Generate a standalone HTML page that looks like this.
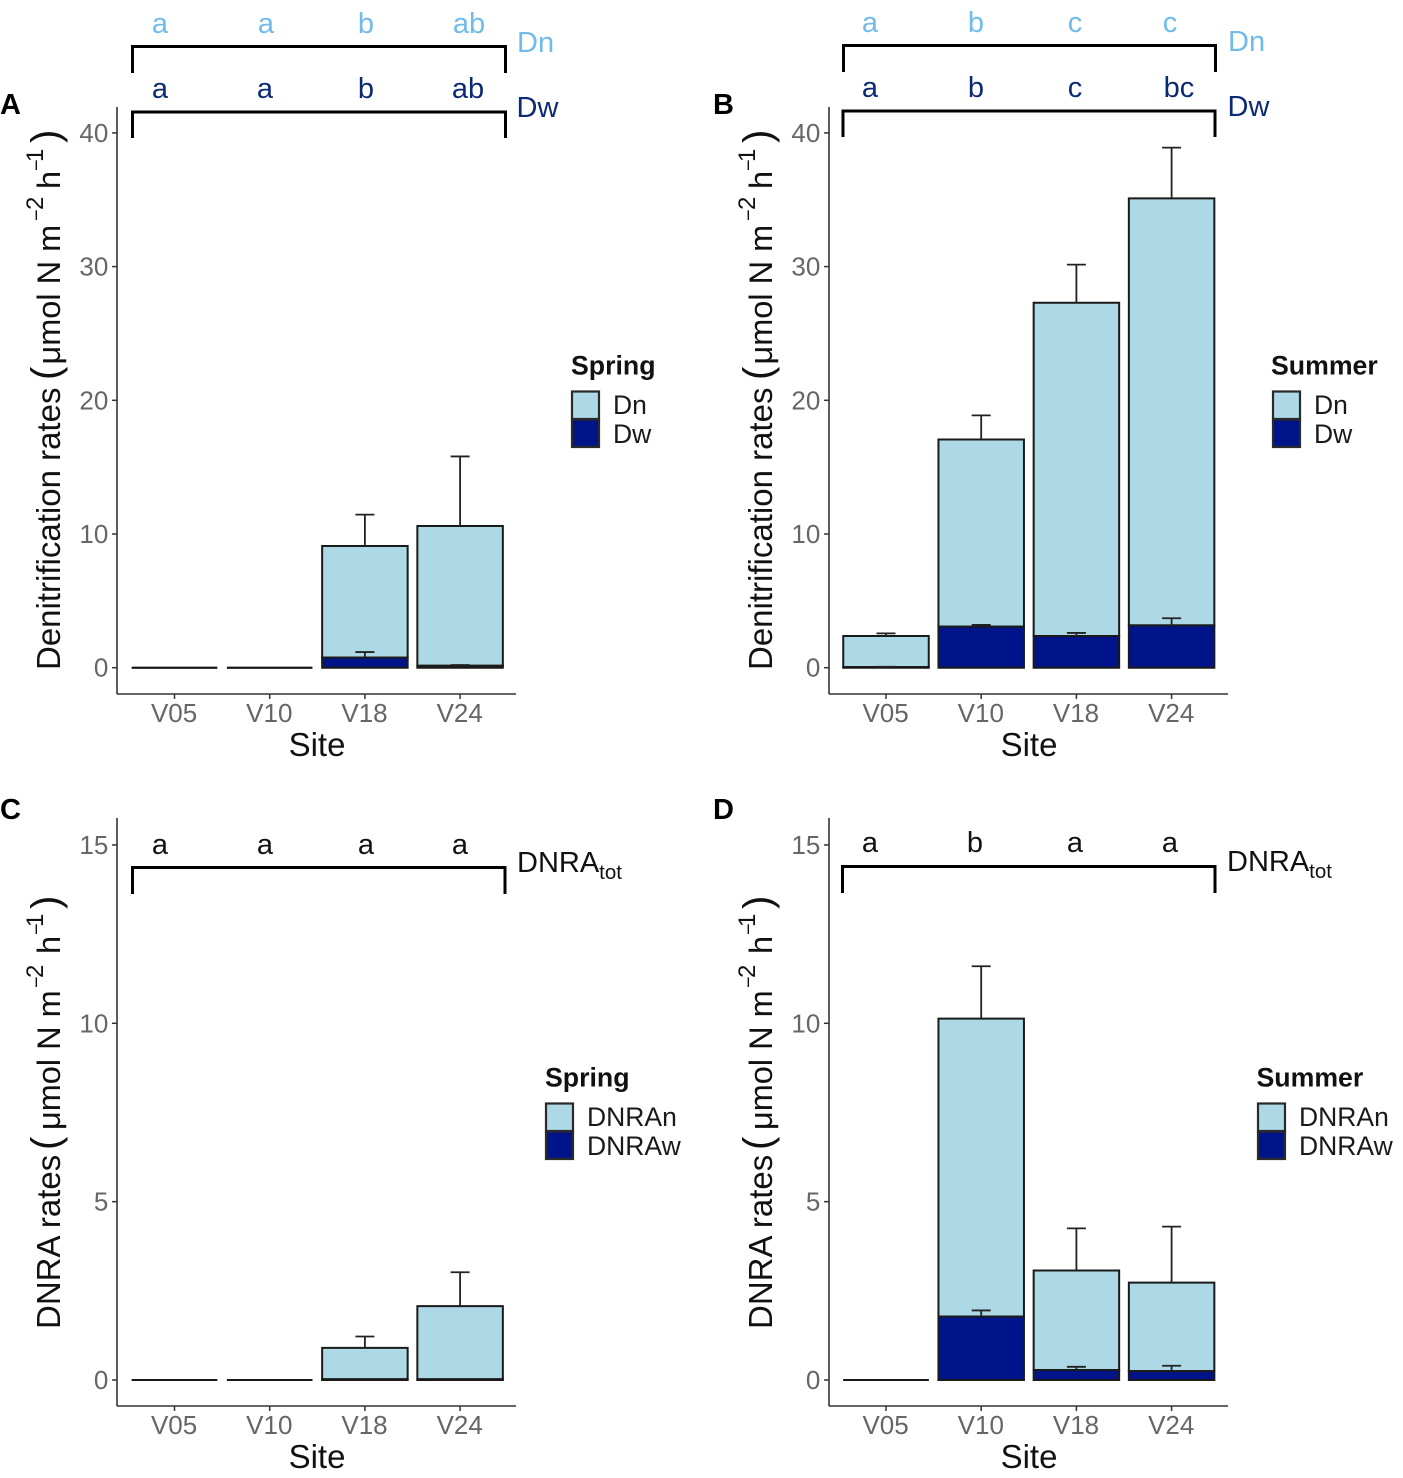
<!DOCTYPE html>
<html>
<head>
<meta charset="utf-8">
<title>Denitrification and DNRA rates</title>
<style>
html,body{margin:0;padding:0;background:#fff;width:1403px;height:1478px;overflow:hidden}
svg{display:block}
text{font-family:"Liberation Sans",sans-serif}
.lt{font-size:29px;text-anchor:middle;fill:#6fbbeb}
.dk{font-size:29px;text-anchor:middle;fill:#0c2a74}
.bk{font-size:29px;text-anchor:middle;fill:#111}
.tag{font-size:29px;font-weight:bold;fill:#000}
.lgt{font-size:26.7px;font-weight:bold;fill:#111}
.lgl{font-size:26.5px;fill:#1a1a1a}
.ttl{font-size:33px;fill:#111}
.ttl .m{font-size:32.500px}
.ttl .p{font-size:40px}
.ttl .s{font-size:24px}
.ttl .d{font-size:20px}
.xt{font-size:33px;fill:#111;text-anchor:middle}
.br{fill:none;stroke:#000;stroke-width:3}
.sw{stroke:#2a2a2a;stroke-width:2.2}
</style>
</head>
<body>
<svg id="fig" xmlns="http://www.w3.org/2000/svg" width="1403" height="1478" viewBox="0 0 1403 1478">
  <rect width="1403" height="1478" fill="#fff"/>

  <text class="tag" x="0" y="114">A</text>
  <text class="tag" x="713" y="114">B</text>
  <text class="tag" x="0" y="819">C</text>
  <text class="tag" x="713" y="819">D</text>

  <text class="ttl" transform="translate(60,670) rotate(-90)">Denitrification rates<tspan class="p" x="290" y="-1">(</tspan><tspan class="m" x="305.500" y="0">μmol N m</tspan><tspan class="d" x="449" y="-17">−</tspan><tspan class="s" x="460" y="-17">2</tspan><tspan class="m" x="481" y="0">h</tspan><tspan class="d" x="499" y="-17">−</tspan><tspan class="s" x="508" y="-17">1</tspan><tspan class="p" x="527" y="-1">)</tspan></text>
  <text class="ttl" transform="translate(772,670) rotate(-90)">Denitrification rates<tspan class="p" x="290" y="-1">(</tspan><tspan class="m" x="305.500" y="0">μmol N m</tspan><tspan class="d" x="449" y="-17">−</tspan><tspan class="s" x="460" y="-17">2</tspan><tspan class="m" x="481" y="0">h</tspan><tspan class="d" x="499" y="-17">−</tspan><tspan class="s" x="508" y="-17">1</tspan><tspan class="p" x="527" y="-1">)</tspan></text>
  <text class="ttl" transform="translate(60,1329) rotate(-90)">DNRA rates<tspan class="p" x="179" y="-1">(</tspan><tspan class="m" x="199" y="0">μmol N m</tspan><tspan class="d" x="341" y="-17">−</tspan><tspan class="s" x="351" y="-17">2</tspan><tspan class="m" x="375" y="0">h</tspan><tspan class="d" x="394" y="-17">−</tspan><tspan class="s" x="402" y="-17">1</tspan><tspan class="p" x="420" y="-1">)</tspan></text>
  <text class="ttl" transform="translate(772,1329) rotate(-90)">DNRA rates<tspan class="p" x="179" y="-1">(</tspan><tspan class="m" x="199" y="0">μmol N m</tspan><tspan class="d" x="341" y="-17">−</tspan><tspan class="s" x="351" y="-17">2</tspan><tspan class="m" x="375" y="0">h</tspan><tspan class="d" x="394" y="-17">−</tspan><tspan class="s" x="402" y="-17">1</tspan><tspan class="p" x="420" y="-1">)</tspan></text>

  <text class="xt" x="317" y="756">Site</text>
  <text class="xt" x="1029" y="756">Site</text>
  <text class="xt" x="317" y="1468">Site</text>
  <text class="xt" x="1029" y="1468">Site</text>

  <g>
    <path class="br" d="M132.500 73V46.500H505.500V73"/>
    <path class="br" d="M132.500 138V112H505.500V138"/>
    <text class="lt" x="160" y="33">a</text>
    <text class="lt" x="266" y="33">a</text>
    <text class="lt" x="366" y="33">b</text>
    <text class="lt" x="469" y="33">ab</text>
    <text class="dk" x="160" y="98">a</text>
    <text class="dk" x="265" y="98">a</text>
    <text class="dk" x="366" y="98">b</text>
    <text class="dk" x="468" y="98">ab</text>
    <text class="lt" style="text-anchor:start" x="517" y="52">Dn</text>
    <text class="dk" style="text-anchor:start" x="516.500" y="117">Dw</text>
  </g>
  <g>
    <path class="br" d="M843.500 72V45.500H1215.500V72"/>
    <path class="br" d="M843 137V111H1215V137"/>
    <text class="lt" x="870" y="32">a</text>
    <text class="lt" x="976" y="32">b</text>
    <text class="lt" x="1075" y="32">c</text>
    <text class="lt" x="1170" y="32">c</text>
    <text class="dk" x="870" y="97">a</text>
    <text class="dk" x="976" y="97">b</text>
    <text class="dk" x="1075" y="97">c</text>
    <text class="dk" x="1179" y="97">bc</text>
    <text class="lt" style="text-anchor:start" x="1228" y="51">Dn</text>
    <text class="dk" style="text-anchor:start" x="1227.500" y="116">Dw</text>
  </g>
  <g>
    <path class="br" d="M132.500 894V867.500H505V894"/>
    <text class="bk" x="160" y="854">a</text>
    <text class="bk" x="265" y="854">a</text>
    <text class="bk" x="366" y="854">a</text>
    <text class="bk" x="460" y="854">a</text>
    <text class="bk" style="text-anchor:start" x="517" y="872">DNRA<tspan font-size="20.500" dy="7">tot</tspan></text>
  </g>
  <g>
    <path class="br" d="M842.500 893V866.500H1215V893"/>
    <text class="bk" x="870" y="852">a</text>
    <text class="bk" x="975" y="852">b</text>
    <text class="bk" x="1075" y="852">a</text>
    <text class="bk" x="1170" y="852">a</text>
    <text class="bk" style="text-anchor:start" x="1227" y="871">DNRA<tspan font-size="20.500" dy="7">tot</tspan></text>
  </g>

  <g>
    <text class="lgt" x="571" y="374.500">Spring</text>
    <rect class="sw" x="572" y="391.500" width="27" height="27.500" fill="#add8e6"/>
    <rect class="sw" x="572" y="419.500" width="27" height="27.500" fill="#00148a"/>
    <text class="lgl" x="613" y="414">Dn</text>
    <text class="lgl" x="613" y="443">Dw</text>
  </g>
  <g>
    <text class="lgt" x="1271" y="374.500">Summer</text>
    <rect class="sw" x="1273" y="391.500" width="27" height="27.500" fill="#add8e6"/>
    <rect class="sw" x="1273" y="419.500" width="27" height="27.500" fill="#00148a"/>
    <text class="lgl" x="1314" y="414">Dn</text>
    <text class="lgl" x="1314" y="443">Dw</text>
  </g>
  <g>
    <text class="lgt" x="545" y="1086.500">Spring</text>
    <rect class="sw" x="546" y="1103.500" width="27" height="27.500" fill="#add8e6"/>
    <rect class="sw" x="546" y="1131.500" width="27" height="27.500" fill="#00148a"/>
    <text class="lgl" x="587" y="1126">DNRAn</text>
    <text class="lgl" x="587" y="1155">DNRAw</text>
  </g>
  <g>
    <text class="lgt" x="1256.500" y="1086.500">Summer</text>
    <rect class="sw" x="1258" y="1103.500" width="27" height="27.500" fill="#add8e6"/>
    <rect class="sw" x="1258" y="1131.500" width="27" height="27.500" fill="#00148a"/>
    <text class="lgl" x="1299" y="1126">DNRAn</text>
    <text class="lgl" x="1299" y="1155">DNRAw</text>
  </g>
</svg>

<script>
var categories = ['V05', 'V10', 'V18', 'V24'];
var denitTicks = [0, 10, 20, 30, 40];
var dnraTicks = [0, 5, 10, 15];

var aUpper = [0, 0, 8.35, 10.45];
var aLower = [0, 0, 0.75, 0.15];
var aUpperErr = [0, 0, 2.35, 5.2];
var aLowerErr = [0, 0, 0.42, 0.05];

var bUpper = [2.32, 14, 24.93, 31.93];
var bLower = [0.05, 3.07, 2.37, 3.17];
var bUpperErr = [0.2, 1.8, 2.85, 3.8];
var bLowerErr = [0.02, 0.13, 0.23, 0.53];

var cUpper = [0, 0, 0.88, 2.05];
var cLower = [0, 0, 0.02, 0.02];
var cUpperErr = [0, 0, 0.32, 0.95];
var cLowerErr = [0, 0, 0, 0];

var dUpper = [0, 8.35, 2.79, 2.48];
var dLower = [0, 1.78, 0.28, 0.25];
var dUpperErr = [0, 1.47, 1.18, 1.57];
var dLowerErr = [0, 0.17, 0.09, 0.15];

var NS = 'http://www.w3.org/2000/svg';
var fig = document.getElementById('fig');

function make(parent, tag, attrs, txt) {
  var n = document.createElementNS(NS, tag);
  for (var k in attrs) n.setAttribute(k, attrs[k]);
  if (txt !== undefined) n.textContent = txt;
  parent.appendChild(n);
  return n;
}

function drawPanel(id, left, firstX, baseY, unit, top, bottom, ticks, upper, lower, upperErr, lowerErr) {
  var step = 95.2, barW = 85.5, capW = 19;
  var xScale = function (i) { return firstX + i * step; };
  var yScale = function (v) { return baseY - v * unit; };

  var g = make(fig, 'g', {});
  
  

  var axisY = make(g, 'line', {x1: left, x2: left, y1: top, y2: bottom, stroke: '#333', 'stroke-width': 1.6});
  
  

  var axisX = make(g, 'line', {x1: left, x2: left + 399, y1: bottom, y2: bottom, stroke: '#333', 'stroke-width': 1.6});
  
  

  ticks.forEach(function (t) {
    var y = yScale(t);
    var mark = make(g, 'line', {x1: left - 5, x2: left, y1: y, y2: y, stroke: '#333', 'stroke-width': 1.5});
    
    
    var label = make(g, 'text', {x: left - 8.7, y: y + 9, 'text-anchor': 'end', 'font-size': 26, fill: '#666'}, String(t));
    
    
  });

  categories.forEach(function (c, i) {
    var cx = xScale(i);
    var x0 = cx - barW / 2, x1 = cx + barW / 2;
    var yLow = yScale(lower[i]);
    var yTop = yScale(lower[i] + upper[i]);
    var yBase = yScale(0);

    var tick = make(g, 'line', {x1: cx, x2: cx, y1: bottom, y2: bottom + 5, stroke: '#333', 'stroke-width': 1.5});
    
    
    var label = make(g, 'text', {x: cx - 0.4, y: bottom + 28, 'text-anchor': 'middle', 'font-size': 26, fill: '#666'}, c);
    
    

    var upperBar = make(g, 'path', {d: 'M' + x0 + ' ' + yTop + 'H' + x1 + 'V' + yLow + 'H' + x0 + 'Z', fill: '#add8e6', stroke: '#1a1a1a', 'stroke-width': 2});
    
    

    var lowerBar = make(g, 'path', {d: 'M' + x0 + ' ' + yLow + 'H' + x1 + 'V' + yBase + 'H' + x0 + 'Z', fill: '#00148a', stroke: '#1a1a1a', 'stroke-width': 2});
    
    

    function err(from, amount, name) {
      if (amount <= 0) return;
      var yEnd = yScale(from + amount), yStart = yScale(from);
      var e = make(g, 'path', {d: 'M' + cx + ' ' + yStart + 'V' + yEnd + 'M' + (cx - capW / 2) + ' ' + yEnd + 'H' + (cx + capW / 2), fill: 'none', stroke: '#222', 'stroke-width': 1.8});
      
      
    }
    err(lower[i] + upper[i], upperErr[i], 'error-bar-upper-' + c);
    err(lower[i], lowerErr[i], 'error-bar-lower-' + c);
  });
}

drawPanel('a', 117, 174.5, 667.7, 13.37, 107, 694, denitTicks, aUpper, aLower, aUpperErr, aLowerErr);
drawPanel('b', 829, 886, 667.7, 13.37, 107, 694, denitTicks, bUpper, bLower, bUpperErr, bLowerErr);
drawPanel('c', 117, 174.5, 1380, 35.67, 818, 1406, dnraTicks, cUpper, cLower, cUpperErr, cLowerErr);
drawPanel('d', 829, 886, 1380, 35.67, 818, 1406, dnraTicks, dUpper, dLower, dUpperErr, dLowerErr);
</script>
</body>
</html>
